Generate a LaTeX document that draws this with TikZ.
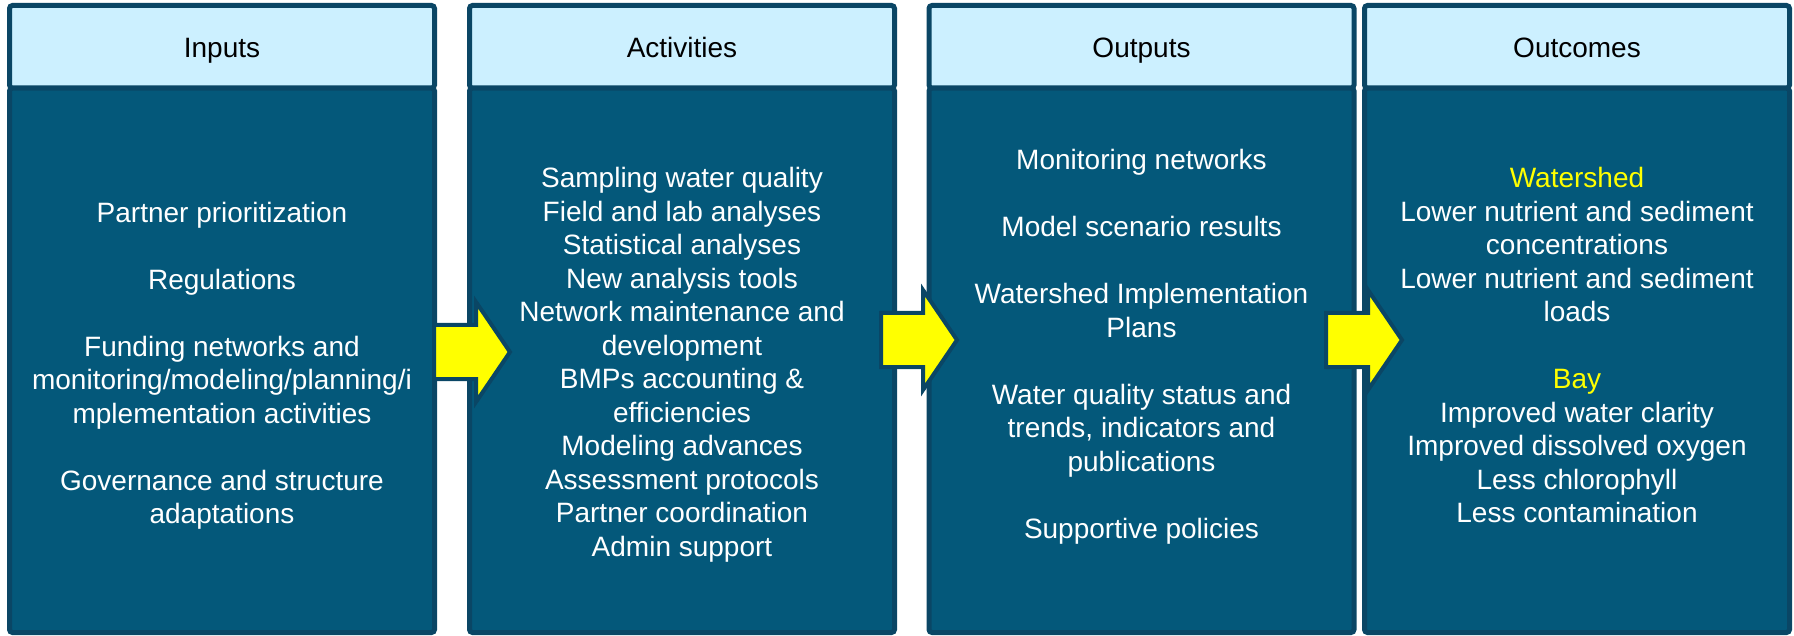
\documentclass[tikz,border=0pt]{standalone}
\usepackage{fontspec}
\setmainfont{Liberation Sans}
\definecolor{hdrfill}{HTML}{CCF0FF}
\definecolor{bodyfill}{HTML}{04587A}
\definecolor{edgecol}{HTML}{0A4665}
\definecolor{hiyellow}{HTML}{FFFF00}
\begin{document}
\begin{tikzpicture}[x=0.5pt,y=-0.5pt,
  colbox/.style={draw=edgecol, line width=2.5pt, rounded corners=1.5pt, inner sep=0pt, minimum width=212.5pt},
  hdr/.style={colbox, fill=hdrfill, minimum height=41.25pt, font=\fontsize{14pt}{16.75pt}\selectfont, text=black, text height=14pt, text depth=3pt},
  body/.style={colbox, fill=bodyfill, minimum height=272.25pt},
  bodytext/.style={anchor=base, align=center, text=white, inner sep=0pt, font=\fontsize{14pt}{16.75pt}\selectfont},
  flow/.style={draw=edgecol, line width=2pt, fill=hiyellow, line join=miter},
  pics/flowarrow/.style={code={
    \draw[flow] (-2,-27) -- (40,-27) -- (40,-50) -- (74,0) -- (40,50) -- (40,27) -- (-2,27) -- cycle;}}]
\useasboundingbox (0,0) rectangle (1794,636);

% columns
\node[body] (in-b)  at (222,360.25) {};
\node[hdr]  (in-h)  at (222,46.75) {Inputs};
\node[body] (act-b) at (682,360.25) {};
\node[hdr]  (act-h) at (682,46.75) {Activities};
\node[body] (out-b) at (1141.5,360.25) {};
\node[hdr]  (out-h) at (1141.5,46.75) {Outputs};
\node[body] (oc-b)  at (1577,360.25) {};
\node[hdr]  (oc-h)  at (1577,46.75) {Outcomes};

% body texts (anchored at the baseline of the last line)
\node[bodytext] (in-t) at (222,523.5) {Partner prioritization\\[16.75pt]Regulations\\[16.75pt]Funding networks and\\monitoring/modeling/planning/i\\mplementation activities\\[16.75pt]Governance and structure\\adaptations};
\node[bodytext] (act-t) at (682,556) {Sampling water quality\\Field and lab analyses\\Statistical analyses\\New analysis tools\\Network maintenance and\\development\\BMPs accounting \&\\efficiencies\\Modeling advances\\Assessment protocols\\Partner coordination\\Admin support};
\node[bodytext] (out-t) at (1141.5,538) {Monitoring networks\\[16.75pt]Model scenario results\\[16.75pt]Watershed Implementation\\Plans\\[16.75pt]Water quality status and\\trends, indicators and\\publications\\[16.75pt]Supportive policies};
\node[bodytext] (oc-t) at (1577,522.5) {{\color{hiyellow}Watershed}\\Lower nutrient and sediment\\concentrations\\Lower nutrient and sediment\\loads\\[16.75pt]{\color{hiyellow}Bay}\\Improved water clarity\\Improved dissolved oxygen\\Less chlorophyll\\Less contamination};

% block arrows between columns
\coordinate (a1) at (436,352);
\coordinate (a2) at (883,340);
\coordinate (a3) at (1328,340);
\pic at (a1) {flowarrow};
\pic at (a2) {flowarrow};
\pic at (a3) {flowarrow};
\end{tikzpicture}
\end{document}
